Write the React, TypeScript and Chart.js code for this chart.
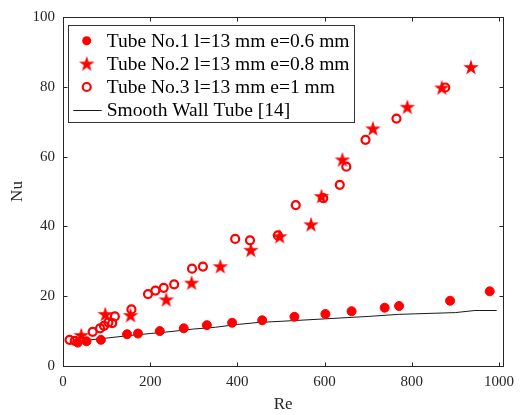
import React, { useEffect, useRef } from "react";
import { Chart, registerables } from "chart.js";

Chart.register(...registerables);

// ---------- data ----------
const tube1Re = [34, 54, 87, 147, 172, 222, 277, 330, 388, 457, 531, 602, 662, 738, 771, 888, 979];
const tube1Nu = [6.7, 7.1, 7.5, 9.1, 9.3, 10.0, 10.8, 11.7, 12.4, 13.1, 14.1, 14.9, 15.7, 16.7, 17.2, 18.7, 21.4];

const tube2Re = [42, 97, 155, 237, 295, 361, 431, 497, 569, 593, 641, 711, 790, 869, 936];
const tube2Nu = [8.9, 14.9, 14.6, 19.1, 23.9, 28.6, 33.3, 37.2, 40.6, 48.7, 59.2, 68.1, 74.3, 79.8, 85.7];

const tube3Re = [15, 27, 68, 85, 94, 104, 113, 119, 157, 195, 212, 231, 255, 296, 321, 395, 429, 493, 534, 597, 635, 650, 694, 765, 877];
const tube3Nu = [7.5, 7.2, 9.8, 10.8, 11.5, 12.5, 12.3, 14.2, 16.2, 20.6, 21.6, 22.4, 23.4, 27.9, 28.5, 36.4, 36.0, 37.4, 46.1, 48.1, 51.9, 57.1, 64.8, 70.9, 79.8];

const smoothRe = [40, 100, 150, 200, 250, 300, 350, 400, 450, 500, 600, 700, 770, 900, 945, 995];
const smoothNu = [7.2, 8.0, 8.7, 9.3, 9.9, 10.6, 11.1, 11.9, 12.5, 12.8, 13.5, 14.2, 14.8, 15.3, 15.9, 15.9];

const xTicks = [0, 200, 400, 600, 800, 1000];
const yTicks = [0, 20, 40, 60, 80, 100];

const legendLabels = [
  "Tube No.1 l=13 mm e=0.6 mm",
  "Tube No.2 l=13 mm e=0.8 mm",
  "Tube No.3 l=13 mm e=1 mm",
  "Smooth Wall Tube [14]",
];
const xTitle = "Re";
const yTitle = "Nu";

// ---------- styles ----------
const RED = "#ff0000";
const AXIS = "#262626";
const FONT = '"Liberation Serif", "Times New Roman", serif';

function makeStar(): HTMLCanvasElement {
  const c = document.createElement("canvas");
  c.width = 20;
  c.height = 20;
  const ctx = c.getContext("2d")!;
  const R = 8.2;
  const r = R * 0.382;
  ctx.beginPath();
  for (let i = 0; i < 10; i++) {
    const rad = i % 2 === 0 ? R : r;
    const a = -Math.PI / 2 + (i * Math.PI) / 5;
    const px = 10 + rad * Math.cos(a);
    const py = 10.8 + rad * Math.sin(a);
    if (i === 0) ctx.moveTo(px, py);
    else ctx.lineTo(px, py);
  }
  ctx.closePath();
  ctx.fillStyle = RED;
  ctx.fill();
  return c;
}

const pts = (xs: number[], ys: number[]) => xs.map((x, i) => ({ x, y: ys[i] }));

export default function App() {
  const ref = useRef<HTMLCanvasElement>(null);

  useEffect(() => {
    const star = makeStar();

    const framePlugin = {
      id: "frame",
      afterDatasetsDraw(chart: any) {
        const { ctx, chartArea: ca, scales } = chart;
        ctx.save();
        ctx.strokeStyle = AXIS;
        ctx.lineWidth = 1;
        const L = Math.round(ca.left) + 0.5;
        const R = Math.round(ca.right) + 0.5;
        const T = Math.round(ca.top) + 0.5;
        const B = Math.round(ca.bottom) + 0.5;
        ctx.strokeRect(L, T, R - L, B - T);
        const tl = 4;
        ctx.beginPath();
        xTicks.forEach((v) => {
          const px = Math.round(scales.x.getPixelForValue(v)) + 0.5;
          ctx.moveTo(px, B);
          ctx.lineTo(px, B - tl);
          ctx.moveTo(px, T);
          ctx.lineTo(px, T + tl);
        });
        yTicks.forEach((v) => {
          const py = Math.round(scales.y.getPixelForValue(v)) + 0.5;
          ctx.moveTo(L, py);
          ctx.lineTo(L + tl, py);
          ctx.moveTo(R, py);
          ctx.lineTo(R - tl, py);
        });
        ctx.stroke();
        ctx.restore();
      },
    };

    const legendPlugin = {
      id: "boxLegend",
      afterDraw(chart: any) {
        const { ctx, chartArea: ca } = chart;
        const bx = Math.round(ca.left + 5) + 0.5;
        const by = Math.round(ca.top + 8) + 0.5;
        const bw = 286;
        const bh = 97;
        ctx.save();
        ctx.fillStyle = "#ffffff";
        ctx.fillRect(bx, by, bw, bh);
        ctx.strokeStyle = "#333333";
        ctx.lineWidth = 1;
        ctx.strokeRect(bx, by, bw, bh);
        const rows = [15.3, 38, 61.5, 84.3];
        const mx = bx + 18.2;
        ctx.font = `19.5px ${FONT}`;
        ctx.textBaseline = "middle";
        ctx.textAlign = "left";
        ctx.fillStyle = "#000000";
        rows.forEach((dy, i) => {
          const y = by + dy;
          ctx.fillText(legendLabels[i], bx + 38.2, y + 1);
        });
        // markers
        let y = by + rows[0];
        ctx.fillStyle = RED;
        ctx.beginPath();
        ctx.arc(mx, y, 4.5, 0, Math.PI * 2);
        ctx.fill();
        y = by + rows[1];
        ctx.drawImage(star, mx - 10, y - 10);
        y = by + rows[2];
        ctx.strokeStyle = RED;
        ctx.lineWidth = 2.2;
        ctx.beginPath();
        ctx.arc(mx, y, 4, 0, Math.PI * 2);
        ctx.stroke();
        y = Math.round(by + rows[3]) + 0.5;
        ctx.strokeStyle = "#1a1a1a";
        ctx.lineWidth = 1;
        ctx.beginPath();
        ctx.moveTo(bx + 4.8, y);
        ctx.lineTo(bx + 33.2, y);
        ctx.stroke();
        ctx.restore();
      },
    };

    const chart = new Chart(ref.current!, {
      type: "scatter",
      data: {
        datasets: [
          {
            label: legendLabels[0],
            data: pts(tube1Re, tube1Nu),
            pointStyle: "circle",
            pointRadius: 4.5,
            backgroundColor: RED,
            borderColor: RED,
            borderWidth: 1,
          },
          {
            label: legendLabels[1],
            data: pts(tube2Re, tube2Nu),
            pointStyle: star as any,
            pointRadius: 8,
            backgroundColor: RED,
            borderColor: RED,
          },
          {
            label: legendLabels[2],
            data: pts(tube3Re, tube3Nu),
            pointStyle: "circle",
            pointRadius: 4,
            backgroundColor: "rgba(0,0,0,0)",
            borderColor: RED,
            borderWidth: 2.2,
          },
          {
            label: legendLabels[3],
            data: pts(smoothRe, smoothNu),
            showLine: true,
            pointRadius: 0,
            borderColor: "#1a1a1a",
            borderWidth: 1,
            tension: 0,
            fill: false,
          } as any,
        ],
      },
      options: {
        responsive: false,
        devicePixelRatio: 1,
        animation: false,
        events: [],
        layout: { padding: { left: 0, top: 16, right: 12, bottom: 0 } },
        plugins: {
          legend: { display: false },
          tooltip: { enabled: false },
        },
        scales: {
          x: {
            type: "linear",
            min: 0,
            max: 1010,
            afterBuildTicks: (s: any) => {
              s.ticks = xTicks.map((v) => ({ value: v }));
            },
            afterFit: (s: any) => {
              s.height = 49;
            },
            grid: { display: false, drawTicks: false },
            border: { display: false },
            ticks: {
              autoSkip: false,
              maxRotation: 0,
              padding: 7,
              color: AXIS,
              font: { family: FONT, size: 15 },
              callback: (v: any) => String(v),
            },
            title: {
              display: true,
              text: xTitle,
              color: AXIS,
              font: { family: FONT, size: 17 },
              padding: { top: 0, bottom: 0 },
            },
          },
          y: {
            type: "linear",
            min: 0,
            max: 100,
            afterBuildTicks: (s: any) => {
              s.ticks = yTicks.map((v) => ({ value: v }));
            },
            afterFit: (s: any) => {
              s.width = 63;
            },
            grid: { display: false, drawTicks: false },
            border: { display: false },
            ticks: {
              autoSkip: false,
              padding: 8,
              color: AXIS,
              font: { family: FONT, size: 15 },
              callback: (v: any) => String(v),
            },
            title: {
              display: true,
              text: yTitle,
              color: AXIS,
              font: { family: FONT, size: 17 },
              padding: { top: 7, bottom: 0 },
            },
          },
        },
      },
      plugins: [framePlugin, legendPlugin],
    });

    return () => chart.destroy();
  }, []);

  return (
    <div style={{ position: "absolute", left: 0, top: 0, width: 521, height: 415, background: "#fff" }}>
      <canvas ref={ref} width={521} height={415} style={{ display: "block" }} />
    </div>
  );
}
